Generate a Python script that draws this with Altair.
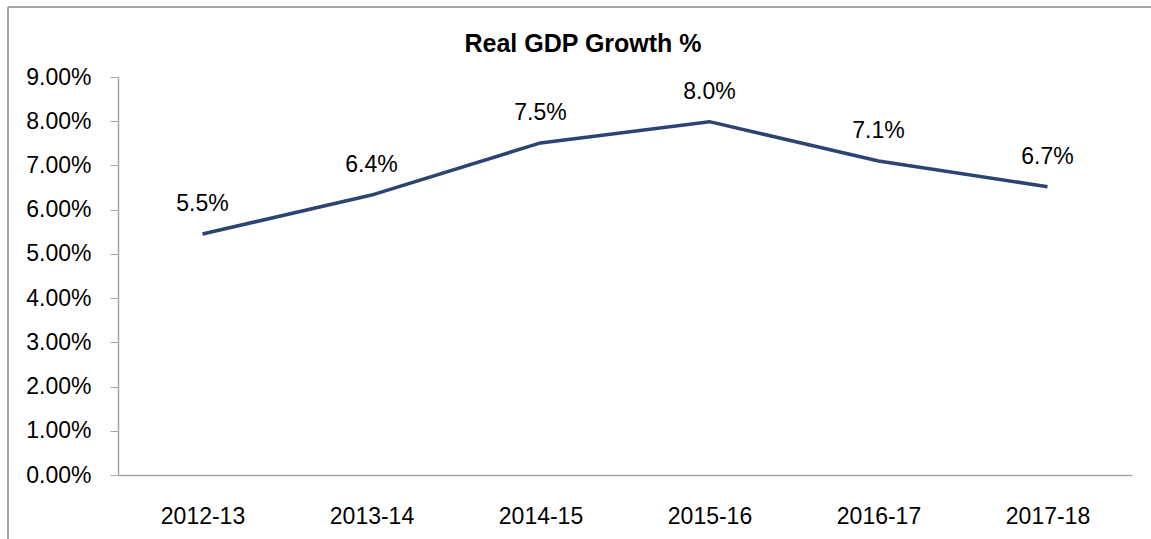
import altair as alt
import pandas as pd

years = ["2012-13", "2013-14", "2014-15", "2015-16", "2016-17", "2017-18"]
growth = [5.45, 6.33, 7.51, 7.99, 7.10, 6.52]
labels = ["5.5%", "6.4%", "7.5%", "8.0%", "7.1%", "6.7%"]
y_ticks = [0, 1, 2, 3, 4, 5, 6, 7, 8, 9]

df = pd.DataFrame({"year": years, "g": [v / 100 for v in growth], "label": labels})

FONT = "Liberation Sans"
LINE = "#2B4471"
GREY = "#A6A6A6"

x = alt.X("year:N", sort=years, title=None,
          axis=alt.Axis(labelAngle=0, ticks=False, tickSize=0, labelPadding=30,
                        labelFontSize=23, labelFont=FONT, labelColor="#000000",
                        domainColor=GREY, domainWidth=1.5, grid=False))
y = alt.Y("g:Q", title=None,
          scale=alt.Scale(domain=[0, 0.09], nice=False, zero=True),
          axis=alt.Axis(values=[t / 100 for t in y_ticks], format=".2%",
                        labelFontSize=23, labelFont=FONT, labelColor="#000000",
                        tickSize=8, tickColor=GREY, domainColor=GREY, domainWidth=1.5,
                        labelPadding=19, grid=False))

base = alt.Chart(df)

line = base.mark_line(color=LINE, strokeWidth=3.5).encode(x=x, y=y)
text = base.mark_text(font=FONT, fontSize=23, color="#000000", dy=-23,
                      baseline="alphabetic", align="center").encode(x=x, y=y, text="label:N")

title = alt.Chart(pd.DataFrame({"t": ["Real GDP Growth %"]})).mark_text(
    font=FONT, fontSize=25, fontWeight="bold", color="#000000",
    baseline="alphabetic", align="center").encode(
    x=alt.value(465), y=alt.value(-25), text="t:N")

border_left = alt.Chart(pd.DataFrame({"a": [0]})).mark_rule(color=GREY, strokeWidth=2).encode(
    x=alt.value(-110), y=alt.value(-70), y2=alt.value(480))
border_top = alt.Chart(pd.DataFrame({"a": [0]})).mark_rule(color=GREY, strokeWidth=2).encode(
    x=alt.value(-110), x2=alt.value(1100), y=alt.value(-70))

chart = alt.layer(border_left, border_top, line, text, title).properties(
    width=1014, height=398,
    autosize=alt.AutoSizeParams(type="none"),
    padding={"left": 118, "top": 77, "right": 19, "bottom": 64},
    background="#FFFFFF",
).configure_view(stroke=None)

chart.save("out.html", embed_options={"renderer": "svg", "actions": False})
